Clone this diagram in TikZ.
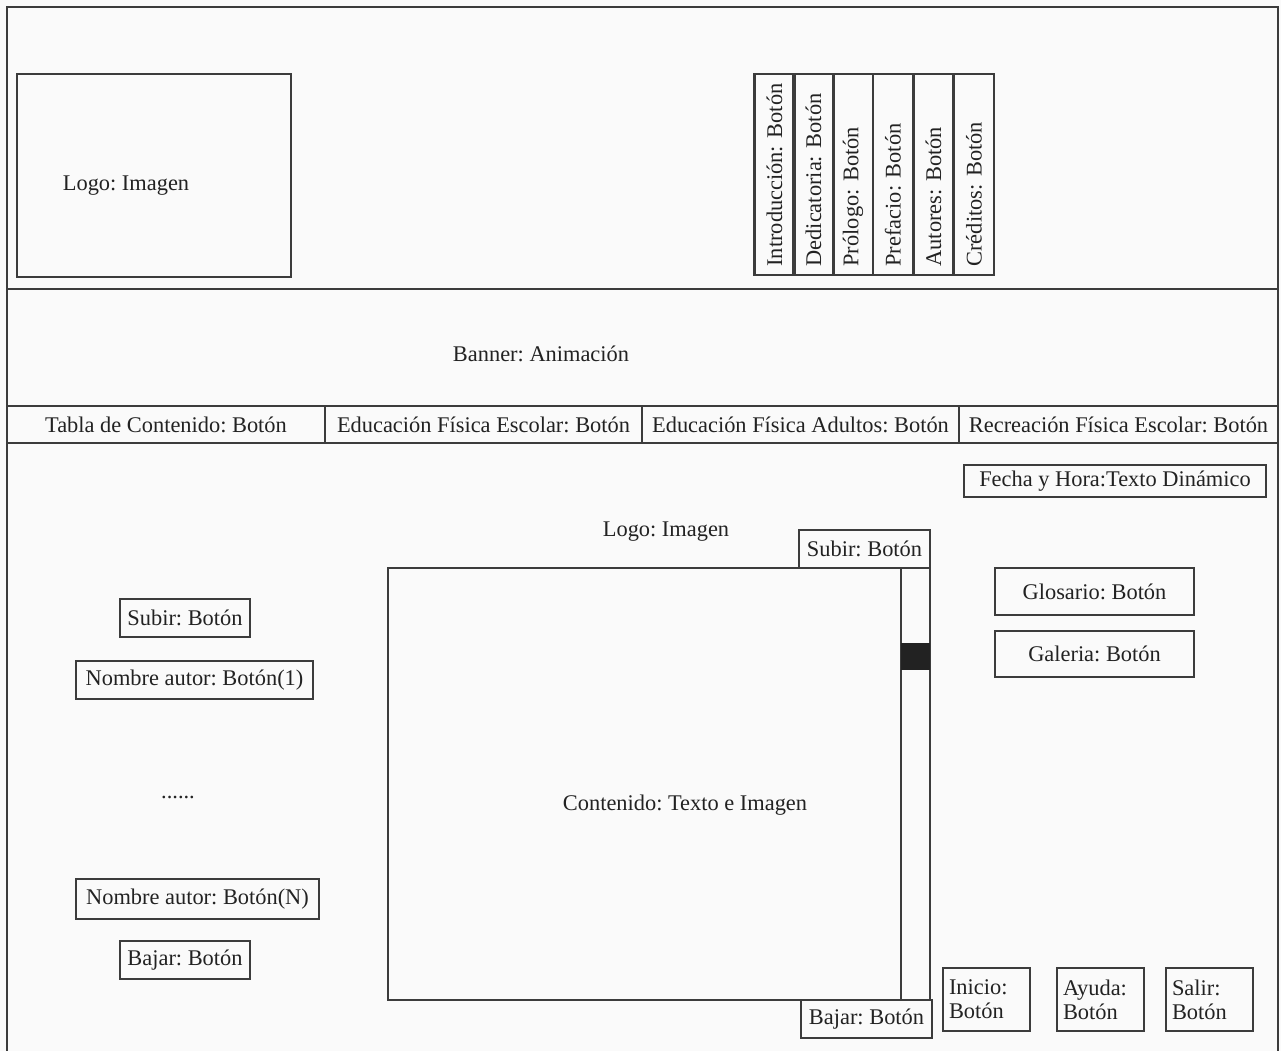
\documentclass[tikz,border=0pt]{standalone}
\usepackage{fontspec}
\setmainfont{Liberation Serif}
\usepackage{tikz}
\usetikzlibrary{positioning}

\definecolor{linea}{HTML}{3C3C3C}
\definecolor{fondo}{HTML}{FAFAFA}
\definecolor{tinta}{HTML}{222222}

\begin{document}
\frenchspacing
\begin{tikzpicture}[
x=1pt, y=-1pt,
every node/.style={font=\fontsize{22.4}{24}\selectfont, text=tinta},
caja/.style={draw=linea, line width=2.6pt, inner sep=4pt, outer sep=0pt},
columna/.style={caja, rotate=90, minimum height=40pt, text width=184pt, inner xsep=8.5pt, align=left},
celda/.style={caja, minimum width=317pt, minimum height=37pt, inner sep=0pt},
boton/.style={caja, minimum height=38pt},
pie/.style={caja, align=left, text width=75pt, minimum height=63pt, inner xsep=6pt}
]

\fill[fondo] (0,0) rectangle (1281,1051);
\useasboundingbox (0,0) rectangle (1281,1051);

% pagina
\draw[draw=linea, line width=2.6pt] (7,1051) -- (7,7) -- (1278,7) -- (1278,1051);
\draw[draw=linea, line width=2.6pt] (7,289) -- (1278,289);

% cabecera
\node (logo) [caja, minimum width=274pt, minimum height=203pt, anchor=north west] at (17,74) {};
\node (logotxt) at (126,186) {Logo: Imagen};

\node (intro) [columna] at (774.5,174.5) {Introducción: Botón};
\node (dedic) [columna] at (813.5,174.5) {Dedicatoria: Botón};
\node (prologo) [columna] at (853,174.5) {Prólogo: Botón};
\node (prefacio) [columna] at (893,174.5) {Prefacio: Botón};
\node (autores) [columna] at (933.5,174.5) {Autores: Botón};
\node (creditos) [columna] at (974,174.5) {Créditos: Botón};

\node (banner) at (541,354) {Banner: Animación};

% menu
\node (tabla) [celda, anchor=west, minimum width=318pt] at (7,424.5) {Tabla de Contenido: Botón};
\node (efe) [celda, right=0pt of tabla] {Educación Física Escolar: Botón};
\node (efa) [celda, right=0pt of efe] {Educación Física Adultos: Botón};
\node (rfe) [celda, right=0pt of efa, minimum width=319pt] {Recreación Física Escolar: Botón};

% cuerpo
\node (fecha) [caja, minimum width=302pt, minimum height=32pt, inner sep=0pt, anchor=north west] at (964,465) {Fecha y Hora:Texto Dinámico};
\node (logo2) at (666,532) {Logo: Imagen};

\node (contenido) [caja, minimum width=542pt, minimum height=432pt, anchor=north west] at (388,568) {};
\node (contxt) at (685,805) {Contenido: Texto e Imagen};
\node (barra) [caja, minimum width=29pt, minimum height=432pt, anchor=north east] at (contenido.north east) {};
\node (cursor) [fill=tinta, minimum width=29pt, minimum height=27pt, inner sep=0pt, anchor=north] at (915.5,643) {};
\node (subir2) [boton, minimum width=131pt, anchor=south east] at (contenido.north east) {Subir: Botón};
\node (bajar2) [boton, minimum width=131pt, anchor=north east] at (932,1000) {Bajar: Botón};

\node (glosario) [caja, minimum width=199pt, minimum height=47pt, anchor=north west] at (995,568) {Glosario: Botón};
\node (galeria) [caja, minimum width=199pt, minimum height=46pt, below=16pt of glosario] {Galeria: Botón};

% autores
\node (subir) [boton, minimum width=130pt] at (185,618) {Subir: Botón};
\node (autor1) [boton, minimum width=237pt] at (194.5,680) {Nombre autor: Botón(1)};
\node (puntos) at (178,797) {......};
\node (autorN) [boton, minimum width=243pt, minimum height=40pt] at (197.5,899) {Nombre autor: Botón(N)};
\node (bajar) [boton, minimum width=130pt] at (185,960) {Bajar: Botón};

% pie
\node (inicio) [pie, anchor=north west] at (943,968) {Inicio:\\Botón};
\node (ayuda) [pie, anchor=north west] at (1057,968) {Ayuda:\\Botón};
\node (salir) [pie, anchor=north west] at (1166,968) {Salir:\\Botón};

\end{tikzpicture}
\end{document}
